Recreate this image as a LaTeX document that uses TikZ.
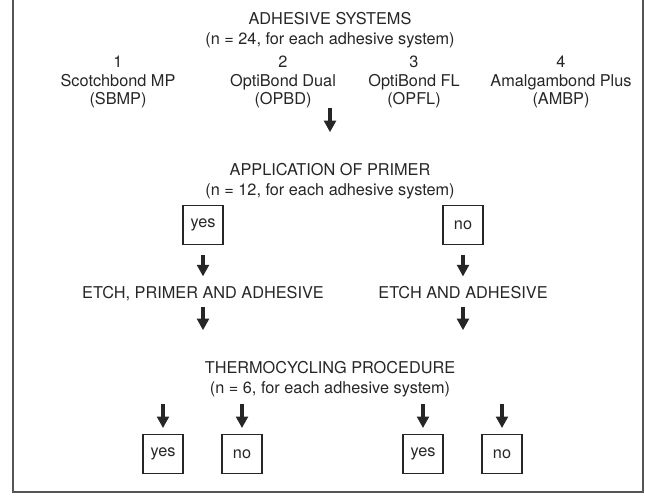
\documentclass[tikz,border=0pt]{standalone}
\usepackage{fontspec}
\setmainfont{TeX Gyre Heros}
\usetikzlibrary{arrows.meta}
\definecolor{ink}{HTML}{262626}
\definecolor{rim}{HTML}{555555}

\begin{document}
\begin{tikzpicture}[x=0.03cm, y=-0.03cm,
    txt/.style={text=ink, inner sep=0pt, align=center, font=\fontsize{13.9pt}{17pt}\selectfont},
    lst/.style={txt, font=\fontsize{13.9pt}{15.6pt}\selectfont},
    opt/.style={txt, draw=ink, line width=1.1pt, minimum width=1.2cm, minimum height=1.17cm},
    fat/.style={draw=ink, line width=2.9pt, -{Triangle[width=0.38cm, length=0.34cm, line width=0pt]}}]
    \useasboundingbox (0,0) rectangle (645,495);
    \node[txt] (sys) at (330, 30) {ADHESIVE SYSTEMS\\(n = 24, for each adhesive system)};
    \node[lst] (sbmp) at (118, 82) {1\\Scotchbond MP\\(SBMP)};
    \node[lst] (opbd) at (283, 82) {2\\OptiBond Dual\\(OPBD)};
    \node[lst] (opfl) at (414, 82) {3\\OptiBond FL\\(OPFL)};
    \node[lst] (ambp) at (561, 82) {4\\Amalgambond Plus\\(AMBP)};
    \node[txt] (primer) at (330, 181) {APPLICATION OF PRIMER\\(n = 12, for each adhesive system)};
    \node[opt] (pyes) at (203, 225) {yes};
    \node[opt] (pno) at (463, 225) {no};
    \node[txt] (epa) at (203, 294) {ETCH, PRIMER AND ADHESIVE};
    \node[txt] (ea) at (463, 293) {ETCH AND ADHESIVE};
    \node[txt] (thermo) at (330, 379) {THERMOCYCLING PROCEDURE\\(n = 6, for each adhesive system)};
    \node[opt] (tyes1) at (163, 454) {yes};
    \node[opt] (tno1) at (242, 454) {no};
    \node[opt] (tyes2) at (423, 454) {yes};
    \node[opt] (tno2) at (502, 454) {no};
    \coordinate (s0) at (330, 108);
    \coordinate (e0) at (330, 132);
    \coordinate (e1) at (203, 330);
    \coordinate (e2) at (463, 330);
    \coordinate (s3) at (163, 404);
    \coordinate (s4) at (242, 404);
    \coordinate (s5) at (423, 404);
    \coordinate (s6) at (502, 404);
    \draw[fat] (s0) to (e0);
    \draw[fat, shorten <=0.3cm, shorten >=0.31cm] (pyes) to (epa);
    \draw[fat, shorten <=0.3cm, shorten >=0.31cm] (pno) to (ea);
    \draw[fat, shorten <=0.17cm] (epa) to (e1);
    \draw[fat, shorten <=0.24cm] (ea) to (e2);
    \draw[fat, shorten >=0.18cm] (s3) to (tyes1);
    \draw[fat, shorten >=0.18cm] (s4) to (tno1);
    \draw[fat, shorten >=0.18cm] (s5) to (tyes2);
    \draw[fat, shorten >=0.18cm] (s6) to (tno2);
    \draw[rim, line width=1.3pt] (13,0) -- (13,492) -- (643,492) -- (643,0);
  \end{tikzpicture}
\end{document}
